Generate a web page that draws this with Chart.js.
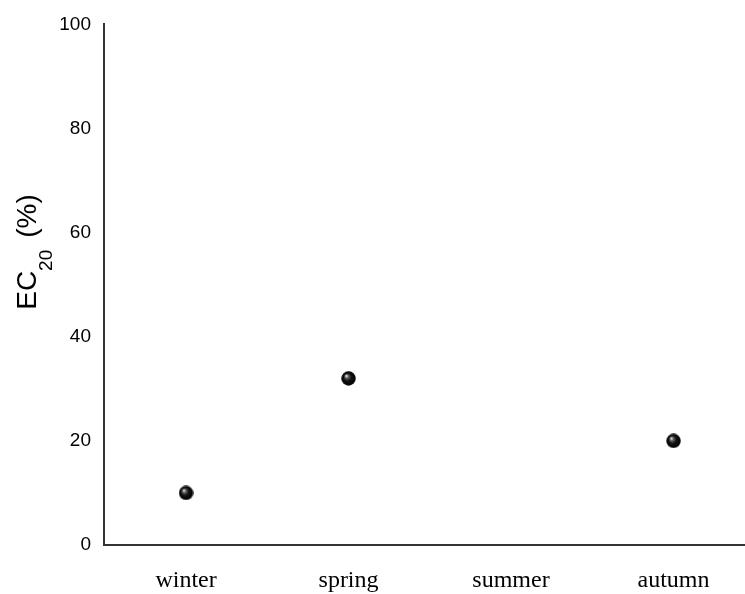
<!DOCTYPE html>
<html>
<head>
<meta charset="utf-8">
<script src="https://cdn.jsdelivr.net/npm/chart.js@4"></script>
<style>
  html, body { margin: 0; padding: 0; background: #fff; overflow: hidden; }
  #wrap { position: absolute; left: 0; top: 0; width: 745px; height: 594px; }
</style>
</head>
<body>
<div id="wrap"><canvas id="ecChart"></canvas></div>
<script>
const seasons = ['winter', 'spring', 'summer', 'autumn'];
const ec20Values = [10, 32, null, 20];
const yTicks = [0, 20, 40, 60, 80, 100];

// small shaded ball used as the point marker
function makeBall(size) {
    const c = document.createElement('canvas');
    c.width = size;
    c.height = size;
    const g = c.getContext('2d');
    const r = size / 2;
    const grad = g.createRadialGradient(r * 0.7, r * 0.65, 0.3, r, r, r);
    grad.addColorStop(0, '#f0f0f0');
    grad.addColorStop(0.2, '#666');
    grad.addColorStop(0.5, '#111');
    grad.addColorStop(1, '#000');
    g.fillStyle = grad;
    g.beginPath();
    g.arc(r, r, r - 0.3, 0, Math.PI * 2);
    g.fill();
    return c;
}

// y-axis title with subscript: EC20 (%)
const yTitlePlugin = {
    id: 'yTitle',
    afterDraw(chart) {
        const ctx = chart.ctx;
        const big = '28px "Liberation Sans", Arial, sans-serif';
        const small = '19px "Liberation Sans", Arial, sans-serif';
        ctx.save();
        ctx.fillStyle = '#000';
        ctx.textBaseline = 'alphabetic';
        ctx.font = big;
        const wEC = ctx.measureText('EC').width;
        const wPct = ctx.measureText('(%)').width;
        ctx.font = small;
        const wSub = ctx.measureText('20').width;
        const gap = 12;
        const total = wEC + wSub + gap + wPct;
        ctx.translate(36, 252);
        ctx.rotate(-Math.PI / 2);
        let x = -total / 2;
        ctx.font = big;
        ctx.fillText('EC', x, 0);
        x += wEC;
        ctx.font = small;
        ctx.fillText('20', x, 16);
        x += wSub + gap;
        ctx.font = big;
        ctx.fillText('(%)', x, 0);
        ctx.restore();
    }
};

const points = seasons.map((s, i) => ({ x: i, y: ec20Values[i] })).filter(p => p.y !== null);

new Chart(document.getElementById('ecChart'), {
    type: 'scatter',
    data: {
        datasets: [{
            label: 'EC20',
            data: points,
            pointStyle: makeBall(15),
            pointRadius: 7.5,
            pointHoverRadius: 7.5
        }]
    },
    options: {
        responsive: true,
        maintainAspectRatio: false,
        animation: false,
        events: [],
        layout: {
            autoPadding: false,
            padding: { left: 0, right: 0, top: 22, bottom: 0 }
        },
        scales: {
            x: {
                type: 'linear',
                min: -0.505,
                max: 3.44,
                afterBuildTicks: scale => {
                    scale.ticks = seasons.map((s, i) => ({ value: i }));
                },
                afterFit: scale => {
                    scale.height = 49;
                    scale.paddingLeft = 0;
                    scale.paddingRight = 0;
                },
                grid: { display: false, drawTicks: false },
                border: { display: true, color: '#333', width: 2 },
                ticks: {
                    padding: 21,
                    color: '#000',
                    font: { family: '"Liberation Serif", "Times New Roman", serif', size: 24 },
                    callback: v => seasons[v]
                }
            },
            y: {
                min: 0,
                max: 100,
                afterBuildTicks: scale => {
                    scale.ticks = yTicks.map(v => ({ value: v }));
                },
                afterFit: scale => { scale.width = 104; },
                grid: { display: false, drawTicks: false },
                border: { display: true, color: '#333', width: 2 },
                ticks: {
                    padding: 13,
                    color: '#000',
                    font: { family: '"Liberation Sans", Arial, sans-serif', size: 19 }
                }
            }
        },
        plugins: {
            legend: { display: false },
            tooltip: { enabled: false }
        }
    },
    plugins: [yTitlePlugin]
});
</script>
</body>
</html>
